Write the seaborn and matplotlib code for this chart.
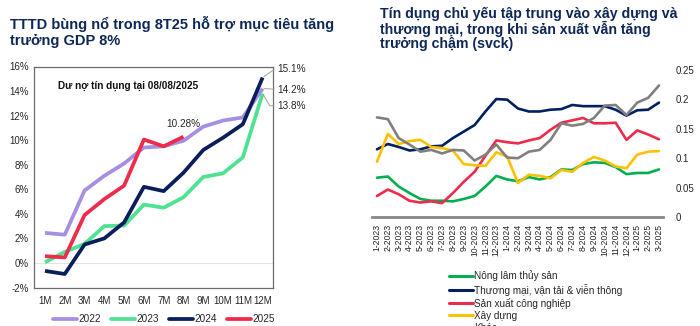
import numpy as np
import pandas as pd
import matplotlib
matplotlib.use("Agg")
import matplotlib.pyplot as plt
import seaborn as sns

# ---------------- Left chart data ----------------
months = ["1M", "2M", "3M", "4M", "5M", "6M", "7M", "8M", "9M", "10M", "11M", "12M"]
y2022 = [2.45, 2.3, 5.9, 7.1, 8.1, 9.4, 9.5, 9.95, 11.1, 11.6, 11.85, 14.2]
y2023 = [0.05, 0.9, 1.55, 3.0, 3.05, 4.75, 4.5, 5.35, 7.0, 7.3, 8.6, 13.8]
y2024 = [-0.65, -0.9, 1.5, 2.0, 3.3, 6.2, 5.85, 7.35, 9.2, 10.2, 11.3, 15.1]
y2025 = [0.55, 0.45, 3.9, 5.2, 6.3, 10.05, 9.5, 10.28]
years = ["2022", "2023", "2024", "2025"]
year_colors = ["#A68FE3", "#4EE292", "#0B1E5B", "#EE2B4B"]

# ---------------- Right chart data ----------------
periods = ["1-2023", "2-2023", "3-2023", "4-2023", "5-2023", "6-2023", "7-2023",
           "8-2023", "9-2023", "10-2023", "11-2023", "12-2023", "1-2024", "2-2024",
           "3-2024", "4-2024", "5-2024", "6-2024", "7-2024", "8-2024", "9-2024",
           "10-2024", "11-2024", "12-2024", "1-2025", "2-2025", "3-2025"]
nong_lam = [0.067, 0.069, 0.052, 0.041, 0.031, 0.028, 0.028, 0.027, 0.031, 0.036,
            0.052, 0.070, 0.064, 0.061, 0.068, 0.064, 0.068, 0.081, 0.080, 0.090,
            0.093, 0.092, 0.085, 0.073, 0.075, 0.075, 0.081]
thuong_mai = [0.115, 0.124, 0.119, 0.113, 0.115, 0.120, 0.121, 0.134, 0.145, 0.156,
              0.179, 0.200, 0.199, 0.184, 0.179, 0.179, 0.182, 0.183, 0.190, 0.188,
              0.188, 0.188, 0.182, 0.172, 0.181, 0.182, 0.194]
san_xuat = [0.036, 0.047, 0.039, 0.028, 0.025, 0.027, 0.024, 0.041, 0.060, 0.077,
            0.104, 0.130, 0.127, 0.125, 0.130, 0.134, 0.148, 0.160, 0.164, 0.168,
            0.159, 0.159, 0.160, 0.131, 0.147, 0.140, 0.132]
xay_dung = [0.094, 0.141, 0.124, 0.129, 0.131, 0.119, 0.117, 0.113, 0.090, 0.088,
            0.087, 0.110, 0.103, 0.058, 0.072, 0.070, 0.066, 0.080, 0.077, 0.092,
            0.102, 0.096, 0.086, 0.083, 0.106, 0.111, 0.112]
khac = [0.169, 0.166, 0.134, 0.123, 0.111, 0.114, 0.108, 0.114, 0.113, 0.096,
        0.106, 0.123, 0.101, 0.100, 0.111, 0.114, 0.131, 0.159, 0.155, 0.158,
        0.168, 0.189, 0.190, 0.173, 0.194, 0.202, 0.223]
sectors = ["Nông lâm thủy sản", "Thương mại, vận tải & viễn thông",
           "Sản xuất công nghiệp", "Xây dựng", "Khác"]
sector_colors = ["#00B050", "#002060", "#EE2B4B", "#FFC000", "#808080"]

title_color = "#0F2757"
text_color = "#262626"

sns.set_style("white")
plt.rcParams["font.family"] = ["Liberation Sans", "DejaVu Sans"]

fig = plt.figure(figsize=(7.0, 3.26), dpi=100)
W, H = 700.0, 326.0

def fax(l, t, r, b):
    return fig.add_axes([l / W, 1 - b / H, (r - l) / W, (b - t) / H])

# ---------------- Left chart ----------------
axL = fax(34.3, 66.5, 273.3, 287.5)
rows = []
for yr, vals in zip(years, [y2022, y2023, y2024, y2025]):
    for i, v in enumerate(vals):
        rows.append({"x": i, "val": v, "year": yr})
dfL = pd.DataFrame(rows)
axL.axhline(0, color="#e4e4e4", lw=0.8, zorder=0)
sns.lineplot(data=dfL, x="x", y="val", hue="year", palette=year_colors,
             hue_order=years, linewidth=2.7, ax=axL, legend=False,
             solid_capstyle="butt", solid_joinstyle="round")
axL.set_xlim(-0.54, 11.54)
axL.set_ylim(-2, 16)
axL.set_xticks(range(12))
axL.set_xticklabels(months)
axL.set_yticks(range(-2, 17, 2))
axL.set_yticklabels([f"{v}%" for v in range(-2, 17, 2)])
axL.tick_params(axis="both", length=0, labelsize=7, colors=text_color, pad=4)
axL.tick_params(axis="x", pad=6)
axL.set_xlabel("")
axL.set_ylabel("")
for s in axL.spines.values():
    s.set_color("#6b6b6b")
    s.set_linewidth(0.9)
    s.set_visible(True)

axL.text(0.66, 14.4, "Dư nợ tín dụng tại 08/08/2025", fontsize=7.2,
         fontweight="bold", color="#111111", va="center", ha="left")
axL.text(7.0, 11.3, "10.28%", fontsize=7.2, color=text_color, ha="center", va="center")

ann_style = dict(arrowstyle="-", color="#a0a0a0", lw=0.7, shrinkA=0, shrinkB=1)
axL.annotate("15.1%", xy=(11, y2024[-1]), xytext=(11.75, 15.8),
             fontsize=7.2, color=text_color, va="center", ha="left",
             annotation_clip=False,
             arrowprops=dict(connectionstyle="angle,angleA=0,angleB=35,rad=0", **ann_style))
axL.annotate("14.2%", xy=(11, y2022[-1]), xytext=(11.75, 14.1),
             fontsize=7.2, color=text_color, va="center", ha="left",
             annotation_clip=False, arrowprops=dict(**ann_style))
axL.annotate("13.8%", xy=(11, y2023[-1]), xytext=(11.75, 12.8),
             fontsize=7.2, color=text_color, va="center", ha="left",
             annotation_clip=False,
             arrowprops=dict(connectionstyle="angle,angleA=0,angleB=-60,rad=0", **ann_style))

handlesL = [plt.Line2D([], [], color=c, lw=2.7) for c in year_colors]
fig.legend(handlesL, years, loc="center left", bbox_to_anchor=(53 / W, 1 - 319 / H),
           ncol=4, frameon=False, fontsize=7.2, handlelength=2.4,
           handletextpad=0.1, columnspacing=1.05, borderpad=0, borderaxespad=0,
           labelcolor=text_color)

fig.text(10 / W, 1 - 32 / H, "TTTD bùng nổ trong 8T25 hỗ trợ mục tiêu tăng\ntrưởng GDP 8%",
         fontsize=10.5, fontweight="bold", color=title_color, ha="left", va="center",
         linespacing=1.12)

# ---------------- Right chart ----------------
axR = fax(372, 69.5, 663, 217.3)
rowsR = []
for name, vals in zip(sectors, [nong_lam, thuong_mai, san_xuat, xay_dung, khac]):
    for i, v in enumerate(vals):
        rowsR.append({"x": i, "val": v, "sector": name})
dfR = pd.DataFrame(rowsR)
sns.lineplot(data=dfR, x="x", y="val", hue="sector", hue_order=sectors,
             palette=sector_colors, linewidth=1.9, ax=axR, legend=False)
axR.set_xlim(-0.46, 26.37)
axR.set_ylim(0, 0.25)
axR.set_xticks(range(len(periods)))
axR.set_xticklabels(periods, rotation=90)
axR.set_yticks([0, 0.05, 0.1, 0.15, 0.2, 0.25])
axR.set_yticklabels(["0", "0.05", "0.1", "0.15", "0.2", "0.25"])
axR.yaxis.tick_right()
axR.tick_params(axis="both", length=0, colors=text_color)
axR.tick_params(axis="y", labelsize=7, pad=9)
axR.tick_params(axis="x", labelsize=6.2, pad=5)
axR.set_xlabel("")
axR.set_ylabel("")
for k in ["top", "left", "right"]:
    axR.spines[k].set_visible(False)
axR.spines["bottom"].set_color("#878787")
axR.spines["bottom"].set_linewidth(2.0)

handlesR = [plt.Line2D([], [], color=c, lw=2.2) for c in sector_colors]
fig.legend(handlesR, sectors, loc="upper left", bbox_to_anchor=(449 / W, 1 - 270.5 / H),
           ncol=1, frameon=False, fontsize=7.2, handlelength=2.4,
           handletextpad=0.15, labelspacing=0.22, borderpad=0, borderaxespad=0,
           labelcolor=text_color)

fig.text(380 / W, 1 - 29 / H,
         "Tín dụng chủ yếu tập trung vào xây dựng và\nthương mại, trong khi sản xuất vẫn tăng\ntrưởng chậm (svck)",
         fontsize=10.2, fontweight="bold", color=title_color, ha="left", va="center",
         linespacing=1.0)

fig.savefig("out.png", dpi=100)
